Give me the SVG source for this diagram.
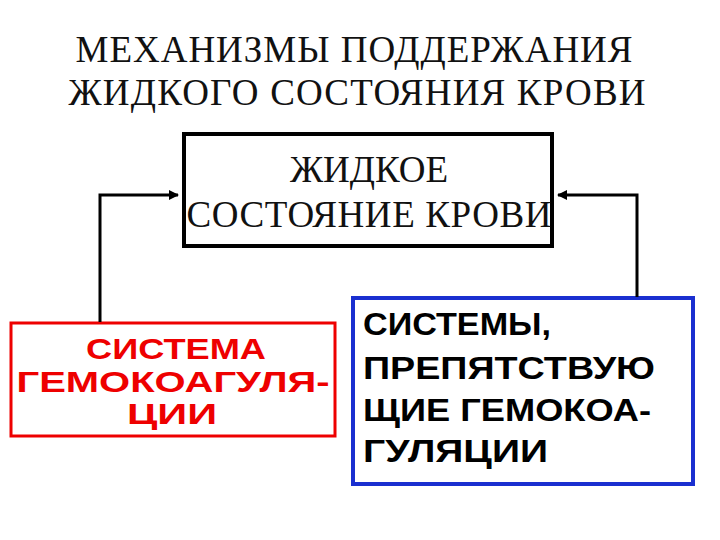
<svg xmlns="http://www.w3.org/2000/svg" width="720" height="540" viewBox="0 0 720 540">
<style>
.t{font-family:"Liberation Serif",serif;fill:#111;text-anchor:middle}
.s{font-family:"Liberation Sans",sans-serif;font-weight:bold}
.c{fill:none;stroke:#000;stroke-width:3}
</style>
<defs><marker id="a" markerWidth="10" markerHeight="10" refX="9" refY="5" orient="auto" markerUnits="userSpaceOnUse"><path d="M0,0L10,5L0,10z" fill="#000"/></marker></defs>
<rect width="720" height="540" fill="#fff"/>
<g id="title"><text class="t" x="354" y="62" font-size="37" textLength="557">МЕХАНИЗМЫ ПОДДЕРЖАНИЯ</text><text class="t" x="357" y="105" font-size="37" textLength="577">ЖИДКОГО СОСТОЯНИЯ КРОВИ</text></g>
<g id="liquid"><rect x="184" y="134" width="368" height="112" fill="#fff" stroke="#000" stroke-width="4"/><text class="t" x="369" y="182" font-size="37">ЖИДКОЕ</text><text class="t" x="369" y="227" font-size="37" textLength="365">СОСТОЯНИЕ КРОВИ</text></g>
<g id="coag"><rect x="11" y="323" width="324" height="113" fill="#fff" stroke="#e00" stroke-width="3"/><g class="s" fill="#e00" font-size="30" text-anchor="middle" lengthAdjust="spacingAndGlyphs"><text x="176" y="359" textLength="180" lengthAdjust="spacingAndGlyphs">СИСТЕМА</text><text x="173" y="392" textLength="313" lengthAdjust="spacingAndGlyphs">ГЕМОКОАГУЛЯ-</text><text x="172" y="424" textLength="90" lengthAdjust="spacingAndGlyphs">ЦИИ</text></g></g>
<g id="anti"><rect x="353" y="298" width="340" height="186" fill="#fff" stroke="#1a2fd0" stroke-width="4"/><g class="s" fill="#000" font-size="31"><text x="363" y="335" textLength="188" lengthAdjust="spacingAndGlyphs">СИСТЕМЫ,</text><text x="363" y="379" textLength="292" lengthAdjust="spacingAndGlyphs">ПРЕПЯТСТВУЮ</text><text x="363" y="421" textLength="288" lengthAdjust="spacingAndGlyphs">ЩИЕ ГЕМОКОА-</text><text x="363" y="462" textLength="185" lengthAdjust="spacingAndGlyphs">ГУЛЯЦИИ</text></g></g>
<g id="connectors"><path class="c" d="M100,322V195H178" marker-end="url(#a)"/><path class="c" d="M637,297V195H558" marker-end="url(#a)"/></g>
</svg>
